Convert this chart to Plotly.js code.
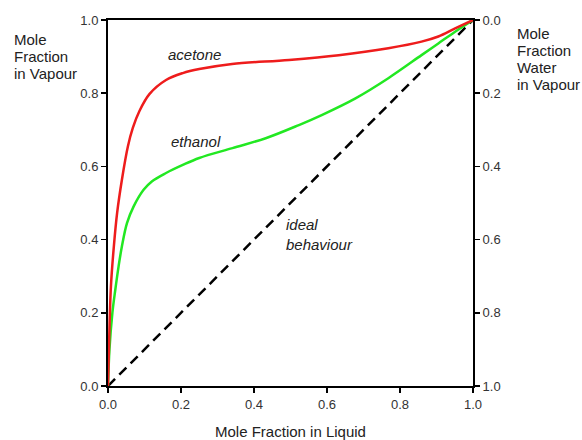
<!DOCTYPE html>
<html>
<head>
<meta charset="utf-8">
<script src="https://cdn.plot.ly/plotly-3.0.1.min.js"></script>
<style>html,body{margin:0;padding:0;background:#fff;}#chart{width:582px;height:440px;}</style>
</head>
<body>
<div id="chart"></div>
<script>
const acetoneX = [0, 0.003, 0.008, 0.016, 0.025, 0.038, 0.0546, 0.068, 0.0865, 0.114, 0.159, 0.205, 0.25, 0.34, 0.496, 0.632, 0.768, 0.859, 0.905, 0.951, 1];
const acetoneY = [0, 0.12, 0.272, 0.381, 0.473, 0.563, 0.655, 0.705, 0.752, 0.798, 0.836, 0.855, 0.866, 0.88, 0.891, 0.904, 0.923, 0.941, 0.955, 0.977, 1];
const ethanolX = [0, 0.004, 0.012, 0.02, 0.029, 0.038, 0.052, 0.070, 0.0975, 0.12, 0.159, 0.205, 0.25, 0.341, 0.432, 0.523, 0.587, 0.678, 0.768, 0.859, 0.905, 0.951, 1];
const ethanolY = [0, 0.10, 0.20, 0.263, 0.327, 0.381, 0.445, 0.49, 0.536, 0.559, 0.582, 0.604, 0.623, 0.65, 0.677, 0.713, 0.741, 0.786, 0.841, 0.904, 0.936, 0.968, 1];
const idealX = [0, 1];
const idealY = [0, 1];
const tickVals = [0, 0.2, 0.4, 0.6, 0.8, 1.0];
const tickText = ['0.0', '0.2', '0.4', '0.6', '0.8', '1.0'];
const xTitle = 'Mole Fraction in Liquid';
const leftLabel = ['Mole', 'Fraction', 'in Vapour'];
const rightLabel = ['Mole', 'Fraction', 'Water', 'in Vapour'];
const curveLabels = ['acetone', 'ethanol', 'ideal<br>behaviour'];

const font = 'Liberation Sans, Arial, sans-serif';
const traces = [
  {x: idealX, y: idealY, mode: 'lines', line: {color: '#000', width: 2.5, dash: '10px,6px'}, hoverinfo: 'skip'},
  {x: ethanolX, y: ethanolY, mode: 'lines', line: {color: '#22e822', width: 2.5, shape: 'spline', smoothing: 1}},
  {x: acetoneX, y: acetoneY, mode: 'lines', line: {color: '#ee1c1c', width: 2.5, shape: 'spline', smoothing: 1}},
  {x: idealX, y: idealY, yaxis: 'y2', mode: 'lines', opacity: 0, line: {width: 1}, hoverinfo: 'skip'}
];

const ann = [];
function txt(t, x, y, xref, yref, xanchor, opts) {
  ann.push(Object.assign({text: t, x: x, y: y, xref: xref, yref: yref, xanchor: xanchor, yanchor: 'middle', showarrow: false,
    font: {family: font, size: 15, color: '#222'}}, opts || {}));
}
const plotH = 366.5, plotTop = 20, plotLeft = 108.3, plotW = 365;
function py(p) { return (plotTop + plotH - p) / plotH; }
function px(p) { return (p - plotLeft) / plotW; }
leftLabel.forEach((t, i) => txt(t, px(12), py(40 + 17 * i), 'paper', 'paper', 'left'));
rightLabel.forEach((t, i) => txt(t, px(515), py(34 + 17 * i), 'paper', 'paper', 'left'));
txt(curveLabels[0], 0.237, 0.905, 'x', 'y', 'center', {font: {family: font, size: 15, color: '#222', style: 'italic'}});
txt(curveLabels[1], 0.242, 0.667, 'x', 'y', 'center', {font: {family: font, size: 15, color: '#222', style: 'italic'}});
txt(curveLabels[2], 0.482, 0.415, 'x', 'y', 'left', {align: 'left', font: {family: font, size: 15, color: '#222', style: 'italic'}});

const axCommon = {
  tickvals: tickVals, ticktext: tickText, ticks: 'outside', ticklen: 5, tickwidth: 1.5, tickcolor: '#000',
  showline: true, linecolor: '#000', linewidth: 2, showgrid: false, zeroline: false,
  tickfont: {family: font, size: 13, color: '#333'}, fixedrange: true
};
const layout = {
  width: 582, height: 440,
  margin: {l: 108.3, r: 108.7, t: 20, b: 53.5},
  paper_bgcolor: '#fff', plot_bgcolor: '#fff',
  showlegend: false,
  xaxis: Object.assign({}, axCommon, {range: [0, 1], mirror: true,
    title: {text: xTitle, font: {family: font, size: 15, color: '#222'}, standoff: 18}}),
  yaxis: Object.assign({}, axCommon, {range: [0, 1]}),
  yaxis2: Object.assign({}, axCommon, {range: [1, 0], overlaying: 'y', side: 'right'}),
  annotations: ann
};
Plotly.newPlot('chart', traces, layout, {displayModeBar: false, staticPlot: true});
</script>
</body>
</html>
